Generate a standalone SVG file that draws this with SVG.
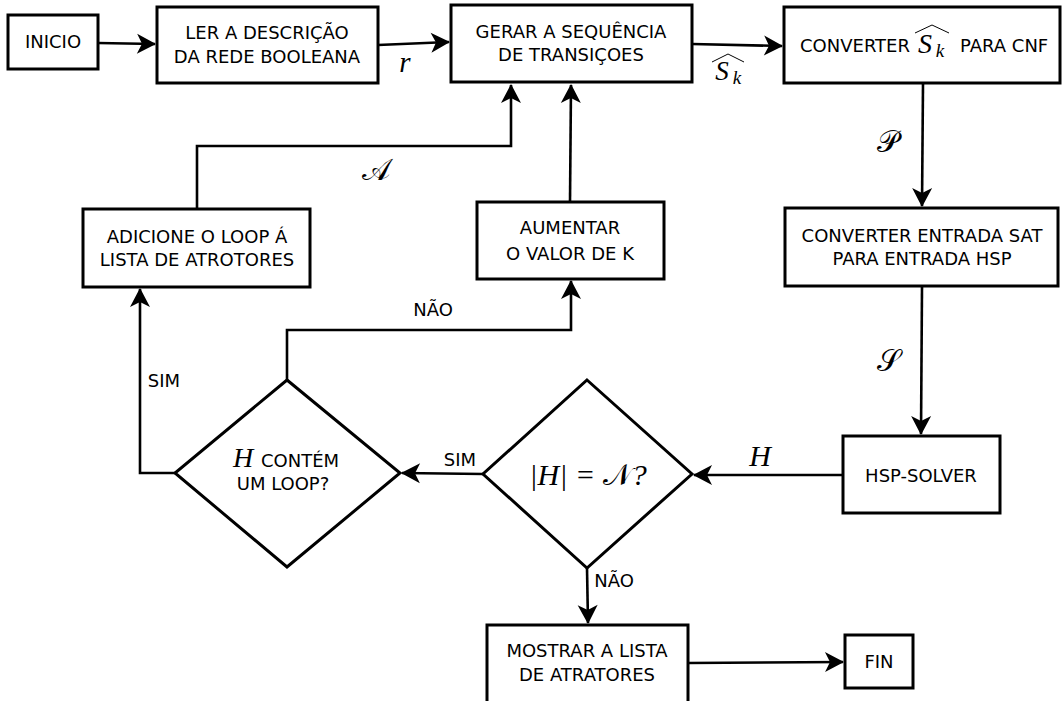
<svg xmlns="http://www.w3.org/2000/svg" width="1063" height="701" viewBox="0 0 1063 701">
  <style>
    .box { fill: #fff; stroke: #000; stroke-width: 3; }
    .lbl { font-family: "DejaVu Sans", "Liberation Sans", sans-serif; font-size: 18px; fill: #000; text-anchor: middle; }
    .lbl.start { text-anchor: start; }
    .math { font-family: "Liberation Serif", "DejaVu Serif", serif; font-style: italic; fill: #000; }
    .cal { font-family: "DejaVu Serif", "Liberation Serif", "Noto Sans", serif; fill: #000; }
    .edge { fill: none; stroke: #000; stroke-width: 2.6; marker-end: url(#head); }
    .hat { fill: none; stroke: #000; stroke-width: 1; }
  </style>
  <defs>
    <marker id="head" viewBox="-20 -11 22 22" refX="0" refY="0" markerWidth="22" markerHeight="22" markerUnits="userSpaceOnUse" orient="auto">
      <path d="M1,0 L-18,-10 L-13,0 L-18,10 Z" fill="#000"/>
    </marker>
  </defs>
  <rect width="1063" height="701" fill="#fff"/>

  <!-- connectors -->
  <g id="connectors">
    <path class="edge" d="M98,43 L155,44"/>
    <path class="edge" d="M378,45 L449,42"/>
    <path class="edge" d="M692,44 L782,46"/>
    <path class="edge" d="M923,84 L922,206"/>
    <path class="edge" d="M922,287 L921,434"/>
    <path class="edge" d="M843,475 L694,475"/>
    <path class="edge" d="M483,474 L402,473"/>
    <path class="edge" d="M175,473 L140,473 L140,289"/>
    <path class="edge" d="M197,209 L197,146 L511,146 L511,85"/>
    <path class="edge" d="M570,202 L571,85"/>
    <path class="edge" d="M287,380 L287,330 L571,330 L571,281"/>
    <path class="edge" d="M587,568 L588,623"/>
    <path class="edge" d="M688,663 L843,662"/>

    <!-- edge labels -->
    <text class="math" x="405" y="72" font-size="29" text-anchor="middle">r</text>
    <g id="sk-label">
      <text class="math" x="722" y="80" font-size="27" text-anchor="middle">S</text>
      <text class="math" x="737" y="84" font-size="19" text-anchor="middle">k</text>
      <path class="hat" d="M712,62 L728,54 L744,62"/>
    </g>
    <text class="cal" x="888" y="152" font-size="30" text-anchor="middle">𝒫</text>
    <text class="cal" x="888" y="371" font-size="30" text-anchor="middle">𝒮</text>
    <text class="cal" x="376" y="180" font-size="30" text-anchor="middle">𝒜</text>
    <text class="math" x="760" y="466" font-size="30" text-anchor="middle">H</text>
    <text class="lbl" x="433" y="316">NÃO</text>
    <text class="lbl" x="164" y="387">SIM</text>
    <text class="lbl" x="460" y="466">SIM</text>
    <text class="lbl" x="614" y="587">NÃO</text>
  </g>

  <!-- nodes -->
  <g id="inicio">
    <rect class="box" x="8" y="15" width="90" height="54"/>
    <text class="lbl" x="53" y="48">INICIO</text>
  </g>
  <g id="ler">
    <rect class="box" x="157" y="7" width="221" height="76"/>
    <text class="lbl" x="267" y="39">LER A DESCRIÇÃO</text>
    <text class="lbl" x="267" y="63">DA REDE BOOLEANA</text>
  </g>
  <g id="gerar">
    <rect class="box" x="451" y="5" width="241" height="77"/>
    <text class="lbl" x="571" y="38">GERAR A SEQUÊNCIA</text>
    <text class="lbl" x="571" y="61">DE TRANSIÇOES</text>
  </g>
  <g id="converter-cnf">
    <rect class="box" x="784" y="7" width="276" height="76"/>
    <text class="lbl start" x="800" y="52">CONVERTER</text>
    <text class="math" x="925" y="53" font-size="28" text-anchor="middle">S</text>
    <text class="math" x="940" y="57" font-size="19" text-anchor="middle">k</text>
    <path class="hat" d="M915,33 L932,25 L949,33"/>
    <text class="lbl start" x="960" y="52">PARA CNF</text>
  </g>
  <g id="converter-hsp">
    <rect class="box" x="785" y="208" width="273" height="78"/>
    <text class="lbl" x="922" y="242">CONVERTER ENTRADA SAT</text>
    <text class="lbl" x="922" y="265">PARA ENTRADA HSP</text>
  </g>
  <g id="hsp-solver">
    <rect class="box" x="843" y="436" width="157" height="77"/>
    <text class="lbl" x="921" y="482">HSP-SOLVER</text>
  </g>
  <g id="teste-tamanho">
    <polygon class="box" points="587,380 692,474 587,568 483,474"/>
    <text class="math" x="588" y="485" font-size="30" text-anchor="middle">|H| = <tspan class="cal" font-style="normal">𝒩</tspan>?</text>
  </g>
  <g id="teste-loop">
    <polygon class="box" points="287,380 400,473 287,567 175,473"/>
    <text class="math" x="243" y="467" font-size="28" text-anchor="middle">H</text>
    <text class="lbl" x="300" y="467">CONTÉM</text>
    <text class="lbl" x="283" y="490">UM LOOP?</text>
  </g>
  <g id="adicione">
    <rect class="box" x="83" y="209" width="227" height="78"/>
    <text class="lbl" x="197" y="243">ADICIONE O LOOP Á</text>
    <text class="lbl" x="197" y="266">LISTA DE ATROTORES</text>
  </g>
  <g id="aumentar">
    <rect class="box" x="477" y="202" width="187" height="77"/>
    <text class="lbl" x="570" y="234">AUMENTAR</text>
    <text class="lbl" x="570" y="260">O VALOR DE K</text>
  </g>
  <g id="mostrar">
    <rect class="box" x="487" y="625" width="201" height="80"/>
    <text class="lbl" x="587" y="657">MOSTRAR A LISTA</text>
    <text class="lbl" x="587" y="681">DE ATRATORES</text>
  </g>
  <g id="fin">
    <rect class="box" x="845" y="635" width="68" height="53"/>
    <text class="lbl" x="879" y="668">FIN</text>
  </g>
</svg>
